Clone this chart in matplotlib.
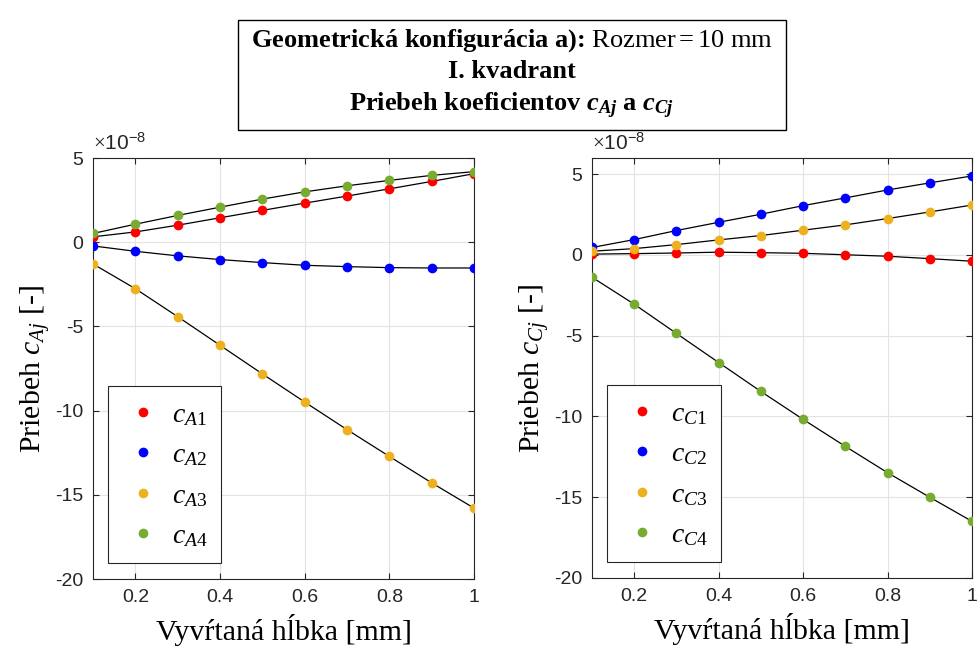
import numpy as np
import matplotlib
matplotlib.use('Agg')
import matplotlib.pyplot as plt
from matplotlib.patches import Rectangle

plt.rcParams['mathtext.fontset'] = 'custom'
plt.rcParams['mathtext.rm'] = 'Liberation Serif'
plt.rcParams['mathtext.it'] = 'Liberation Serif:italic'
plt.rcParams['mathtext.bf'] = 'Liberation Serif:bold'
plt.rcParams['mathtext.bfit'] = 'Liberation Serif:italic:bold'
plt.rcParams['axes.unicode_minus'] = False

# hlbka vrtu [mm]
depth = [0.1, 0.2, 0.3, 0.4, 0.5, 0.6, 0.7, 0.8, 0.9, 1.0]

# koeficienty c_Aj (x 1e-8)
cA1 = [0.32, 0.61, 1.01, 1.45, 1.89, 2.32, 2.74, 3.17, 3.61, 4.07]
cA2 = [-0.22, -0.54, -0.81, -1.03, -1.21, -1.37, -1.45, -1.51, -1.53, -1.53]
cA3 = [-1.29, -2.76, -4.42, -6.12, -7.82, -9.49, -11.13, -12.72, -14.29, -15.79]
cA4 = [0.52, 1.07, 1.59, 2.08, 2.56, 2.99, 3.35, 3.67, 3.97, 4.19]

# koeficienty c_Cj (x 1e-8)
cC1 = [0.05, 0.08, 0.12, 0.17, 0.14, 0.10, 0.01, -0.08, -0.23, -0.39]
cC2 = [0.46, 0.95, 1.51, 2.02, 2.52, 3.05, 3.53, 4.02, 4.46, 4.89]
cC3 = [0.23, 0.39, 0.64, 0.93, 1.20, 1.53, 1.86, 2.25, 2.66, 3.09]
cC4 = [-1.38, -3.05, -4.86, -6.66, -8.45, -10.18, -11.85, -13.48, -15.00, -16.49]

colors = ['#ff0000', '#0000ff', '#edb120', '#77ac30']

fig = plt.figure(figsize=(9.78, 6.46), dpi=100)
axA = fig.add_axes([0.0951, 0.1037, 0.3896, 0.6517])
axC = fig.add_axes([0.6053, 0.1053, 0.3885, 0.6501])


def draw(ax, series, letter, ylim):
    for i, (vals, col) in enumerate(zip(series, colors)):
        ax.plot(depth, vals, 'o', color=col, ms=7, mec='none',
                label=r'$c_{\mathit{%s%d}}$' % (letter, i + 1), zorder=3)
        ax.plot(depth, vals, '-', color='black', lw=0.9, zorder=2)
    ax.set_xlim(0.1, 1)
    ax.set_ylim(*ylim)
    ax.set_xticks([0.2, 0.4, 0.6, 0.8, 1.0])
    ax.set_xticklabels(['0.2', '0.4', '0.6', '0.8', '1'])
    ax.set_yticks([5, 0, -5, -10, -15, -20])
    ax.grid(True, color='#e3e3e3', lw=0.8)
    ax.set_axisbelow(True)
    ax.tick_params(direction='in', top=True, right=True, length=4,
                   color='#262626', labelsize=14, labelcolor='#262626',
                   pad=7)
    for lab in ax.get_xticklabels() + ax.get_yticklabels():
        lab.set_fontfamily('Liberation Sans')
    for sp in ax.spines.values():
        sp.set_color('#262626')
        sp.set_linewidth(0.8)
    ax.text(0.0, 1.01, r'$\times$10$^{\mathregular{-8}}$', transform=ax.transAxes,
            fontsize=15, family='Liberation Sans', color='#262626',
            ha='left', va='bottom')
    ax.set_xlabel('Vyvŕtaná hĺbka [mm]', family='Liberation Serif',
                  fontsize=21.5, labelpad=6)
    ax.set_ylabel(r'Priebeh $c_{\mathit{%sj}}$ [-]' % letter,
                  family='Liberation Serif', fontsize=21.5, labelpad=2)
    leg = ax.legend(loc='lower left', bbox_to_anchor=(0.039, 0.038),
                    borderaxespad=0, fontsize=20, fancybox=False,
                    framealpha=1, edgecolor='#262626', handletextpad=0.3,
                    labelspacing=0.45, borderpad=0.5, handlelength=1.5)
    leg.get_frame().set_linewidth(0.8)


draw(axA, [cA1, cA2, cA3, cA4], 'A', (-20, 5))
draw(axC, [cC1, cC2, cC3, cC4], 'C', (-20, 6))

# titulok v ramceku
box = Rectangle((238 / 978, 1 - 130 / 646), 548 / 978, 110 / 646,
                transform=fig.transFigure, fill=False, ec='black', lw=1)
fig.patches.append(box)
title = ('Geometrická konfigurácia a): $\\mathrm{Rozmer} = \\mathrm{10\\ mm}$\n'
         'I. kvadrant\n'
         'Priebeh koeficientov $\\mathbfit{c}_{\\mathbfit{Aj}}$ a '
         '$\\mathbfit{c}_{\\mathbfit{Cj}}$')
fig.text(512 / 978, 1 - 74 / 646, title, ha='center', va='center',
         family='Liberation Serif', fontweight='bold', fontsize=19,
         linespacing=1.35)

fig.savefig('out.png', dpi=100)
